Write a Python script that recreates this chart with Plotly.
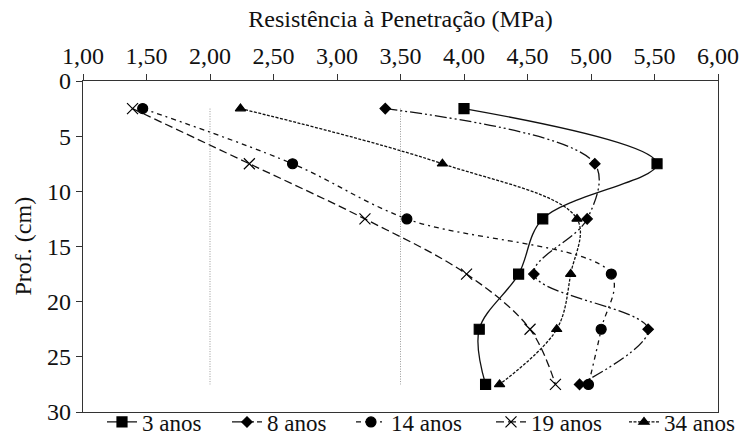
import plotly.graph_objects as go

# Soil penetration resistance (MPa) by depth for each age of cultivation
depth = [2.5, 7.5, 12.5, 17.5, 22.5, 27.5]
series_names = ["3 anos", "8 anos", "14 anos", "19 anos", "34 anos"]
rp_3 = [4.00, 5.52, 4.62, 4.43, 4.12, 4.17]
rp_8 = [3.38, 5.03, 4.97, 4.55, 5.45, 4.91]
rp_14 = [1.47, 2.65, 3.55, 5.16, 5.08, 4.98]
rp_19 = [1.39, 2.31, 3.22, 4.02, 4.52, 4.72]
rp_34 = [2.24, 3.83, 4.89, 4.84, 4.73, 4.28]

# Reference limits drawn as thin vertical dotted lines
ref_limits = [2.0, 3.5]
ref_depth = [2.5, 27.5]

font_family = "Liberation Serif"
fs = 24
W, H = 741, 436
ml, mr, mt, mb = 83, 23, 81, 24
plot_w = W - ml - mr
plot_h = H - mt - mb

styles = [
    dict(dash="solid", symbol="square", size=10),
    dict(dash="12px,3px,2px,3px,2px,3px", symbol="diamond", size=8),
    dict(dash="5px,4px,2px,4px", symbol="circle", size=10),
    dict(dash="8px,4px", symbol="x-thin-open", size=11),
    dict(dash="3px,1.5px", symbol="triangle-up", size=9),
]

# one legend box per series, laid out along the bottom edge (left x in px)
legend_left_px = [102, 227, 351, 491, 624]
legend_ids = ["legend", "legend2", "legend3", "legend4", "legend5"]

fig = go.Figure()

for xv in ref_limits:
    fig.add_trace(go.Scatter(
        x=[xv, xv], y=ref_depth, mode="lines",
        line=dict(color="#999999", width=1, dash="1px,1.5px"),
        showlegend=False, hoverinfo="skip",
    ))

for name, vals, st, lid in zip(series_names, [rp_3, rp_8, rp_14, rp_19, rp_34], styles, legend_ids):
    fig.add_trace(go.Scatter(
        x=vals, y=depth, name=name, mode="lines+markers", legend=lid,
        line=dict(color="#111111", width=1.3, dash=st["dash"], shape="spline", smoothing=1.0),
        marker=dict(symbol=st["symbol"], size=st["size"], color="#000000",
                    line=dict(color="#000000", width=1.2)),
    ))

legend_common = dict(orientation="h", xanchor="left", xref="container",
                     y=-10 / plot_h, yanchor="middle", yref="paper",
                     font=dict(size=23, family=font_family), bgcolor="rgba(0,0,0,0)",
                     itemwidth=30)

layout_legends = {lid: dict(x=px / W, **legend_common)
                  for lid, px in zip(legend_ids, legend_left_px)}

fig.update_layout(
    width=W, height=H,
    margin=dict(l=ml, r=mr, t=mt, b=mb, autoexpand=False),
    paper_bgcolor="white", plot_bgcolor="white",
    separators=",.",
    font=dict(family=font_family, size=fs, color="#111111"),
    title=dict(text="Resistência à Penetração (MPa)", x=0.5, xanchor="center",
               xref="paper", y=1 - 19 / H, yanchor="middle", yref="container",
               font=dict(size=fs, family=font_family)),
    showlegend=True,
    annotations=[dict(text="Prof. (cm)", textangle=-90, showarrow=False,
                      xref="paper", x=(22 - ml) / plot_w, xanchor="center",
                      yref="paper", y=0.5, yanchor="middle",
                      font=dict(size=fs, family=font_family, color="#111111"))],
    **layout_legends,
)

fig.update_xaxes(
    side="top", range=[1, 6], dtick=0.5, tickformat=".2f",
    showline=True, linecolor="#333333", linewidth=1.2, mirror=True,
    ticks="outside", ticklen=6, tickcolor="#333333",
    showgrid=False, zeroline=False,
    tickfont=dict(size=fs, family=font_family),
)
fig.update_yaxes(
    range=[30, 0], dtick=5,
    showline=True, linecolor="#333333", linewidth=1.2, mirror=True,
    ticks="outside", ticklen=6, tickcolor="#333333",
    showgrid=False, zeroline=False,
    tickfont=dict(size=fs, family=font_family),
)

fig.write_html("out.html")
